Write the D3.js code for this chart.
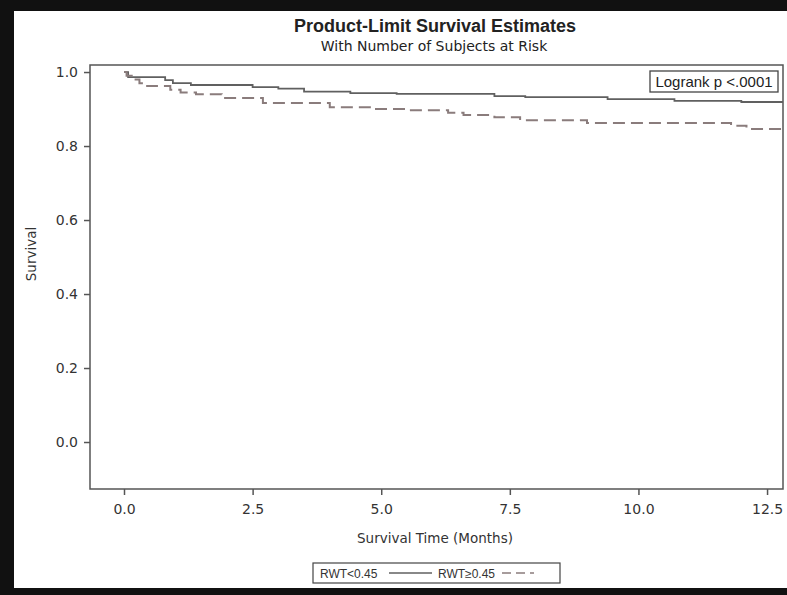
<!DOCTYPE html>
<html>
<head>
<meta charset="utf-8">
<script src="https://cdn.jsdelivr.net/npm/d3@7/dist/d3.min.js"></script>
<style>
  html, body { margin: 0; padding: 0; background: #fff; }
  svg { display: block; }
</style>
</head>
<body>
<svg id="chart" width="787" height="595"></svg>
<script>
// ---- Data ----
const title = "Product-Limit Survival Estimates";
const subtitle = "With Number of Subjects at Risk";
const xLabel = "Survival Time (Months)";
const yLabel = "Survival";
const xTicks = [0, 2.5, 5, 7.5, 10, 12.5];
const yTicks = [0, 0.2, 0.4, 0.6, 0.8, 1.0];
const seriesNames = ["RWT<0.45", "RWT\u22650.45"];
const logrankText = "Logrank p <.0001";

// RWT<0.45 (solid)
const timesLow = [0, 0.08, 0.8, 0.95, 1.3, 2.5, 3.0, 3.5, 4.4, 5.3, 7.2, 7.8, 9.4, 10.7, 12.0, 12.81];
const survLow  = [1.0, 0.986, 0.978, 0.970, 0.965, 0.959, 0.955, 0.947, 0.943, 0.941, 0.935, 0.932, 0.927, 0.922, 0.919, 0.919];
// RWT>=0.45 (dashed)
const timesHigh = [0, 0.05, 0.15, 0.3, 0.45, 0.9, 1.1, 1.4, 1.9, 2.7, 4.0, 4.8, 5.5, 6.3, 6.6, 7.2, 7.7, 9.0, 11.8, 12.1, 12.81];
const survHigh  = [1.0, 0.99, 0.98, 0.97, 0.962, 0.952, 0.945, 0.94, 0.93, 0.916, 0.905, 0.90, 0.897, 0.89, 0.884, 0.878, 0.87, 0.862, 0.855, 0.846, 0.846];

// ---- Layout ----
const svg = d3.select("#chart");
const W = 787, H = 595;
const frame = { left: 90, right: 783, top: 65, bottom: 489 };

const x = d3.scaleLinear().domain([-0.661, 12.81]).range([frame.left, frame.right]);
const y = d3.scaleLinear().domain([-0.127, 1.019]).range([frame.bottom, frame.top]);

const font = "'Liberation Sans', Arial, sans-serif";
const wideFont = "'DejaVu Sans', Verdana, sans-serif";
const axisColor = "#555";

svg.append("rect").attr("width", W).attr("height", H).attr("fill", "#fff");

// Titles
svg.append("text").attr("x", 435).attr("y", 32).attr("text-anchor", "middle")
  .attr("font-family", font).attr("font-weight", "bold").attr("font-size", 18)
  .attr("fill", "#222").text(title);
svg.append("text").attr("x", 434).attr("y", 51).attr("text-anchor", "middle")
  .attr("font-family", wideFont).attr("font-size", 14).attr("fill", "#222").text(subtitle);

// Plot frame
svg.append("rect")
  .attr("x", frame.left).attr("y", frame.top)
  .attr("width", frame.right - frame.left).attr("height", frame.bottom - frame.top)
  .attr("fill", "none").attr("stroke", axisColor).attr("stroke-width", 1.5);

// Axes
const yAxis = d3.axisLeft(y).tickValues(yTicks).tickFormat(d3.format(".1f")).tickSize(6).tickPadding(6);
const gy = svg.append("g").attr("transform", `translate(${frame.left},0)`).call(yAxis);
const xAxis = d3.axisBottom(x).tickValues(xTicks).tickFormat(d3.format(".1f")).tickSize(6).tickPadding(9);
const gx = svg.append("g").attr("transform", `translate(0,${frame.bottom})`).call(xAxis);
[gx, gy].forEach(g => {
  g.select(".domain").remove();
  g.selectAll(".tick line").attr("stroke", axisColor).attr("stroke-width", 1.5);
  g.selectAll(".tick text").attr("font-family", wideFont).attr("font-size", 14).attr("fill", "#333");
});

// Axis labels
svg.append("text").attr("x", 435).attr("y", 543).attr("text-anchor", "middle")
  .attr("font-family", wideFont).attr("font-size", 13.5).attr("fill", "#333").text(xLabel);
svg.append("text").attr("transform", "translate(36,254) rotate(-90)").attr("text-anchor", "middle")
  .attr("font-family", wideFont).attr("font-size", 13.5).attr("fill", "#333").text(yLabel);

// Curves
const line = d3.line().x(d => x(d[0])).y(d => y(d[1])).curve(d3.curveStepAfter);
const dataLow = timesLow.map((t, i) => [t, survLow[i]]);
const dataHigh = timesHigh.map((t, i) => [t, survHigh[i]]);

svg.append("path").datum(dataLow).attr("d", line)
  .attr("fill", "none").attr("stroke", "#606060").attr("stroke-width", 1.8);
svg.append("path").datum(dataHigh).attr("d", line)
  .attr("fill", "none").attr("stroke", "#8a7c7c").attr("stroke-width", 2)
  .attr("stroke-dasharray", "12,6");

// Logrank box
const lg = svg.append("g");
lg.append("rect").attr("x", 650).attr("y", 71).attr("width", 128).attr("height", 21)
  .attr("fill", "#fff").attr("stroke", "#444").attr("stroke-width", 1.3);
lg.append("text").attr("x", 714).attr("y", 87).attr("text-anchor", "middle")
  .attr("font-family", font).attr("font-size", 15).attr("fill", "#222").text(logrankText);

// Legend
const leg = svg.append("g");
leg.append("rect").attr("x", 313).attr("y", 563).attr("width", 247).attr("height", 20)
  .attr("fill", "#fff").attr("stroke", "#444").attr("stroke-width", 1.2);
leg.append("text").attr("x", 320).attr("y", 577.5).attr("font-family", font).attr("font-size", 12)
  .attr("fill", "#333").text(seriesNames[0]);
leg.append("line").attr("x1", 389).attr("x2", 432).attr("y1", 573).attr("y2", 573)
  .attr("stroke", "#606060").attr("stroke-width", 1.3);
leg.append("text").attr("x", 438).attr("y", 577.5).attr("font-family", font).attr("font-size", 12)
  .attr("fill", "#333").text(seriesNames[1]);
leg.append("line").attr("x1", 502).attr("x2", 534).attr("y1", 573).attr("y2", 573)
  .attr("stroke", "#8a7c7c").attr("stroke-width", 1.3).attr("stroke-dasharray", "9,5");

// Black photo border
svg.append("rect").attr("x", 0).attr("y", 0).attr("width", W).attr("height", 11).attr("fill", "#111");
svg.append("rect").attr("x", 0).attr("y", 0).attr("width", 14).attr("height", H).attr("fill", "#111");
svg.append("rect").attr("x", 0).attr("y", 588).attr("width", W).attr("height", H - 588).attr("fill", "#111");
</script>
</body>
</html>
